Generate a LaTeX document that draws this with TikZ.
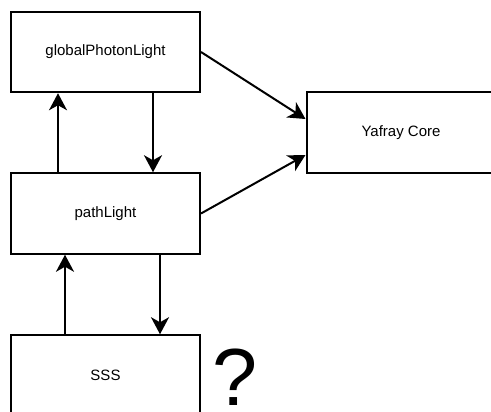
\documentclass[tikz,border=0pt]{standalone}
\usepackage{fontspec}
\setmainfont{Liberation Sans}
\usetikzlibrary{arrows.meta,calc}
\begin{document}
\begin{tikzpicture}[x=1pt,y=1pt,
  box/.style={draw=black,line width=2pt,fill=white,minimum width=189pt,minimum height=80.5pt,inner sep=0pt,font=\fontsize{15}{18}\selectfont},
  conn/.style={line width=2pt,-{Stealth[length=17pt,width=18pt,inset=5pt]}}]
\useasboundingbox (0,0) rectangle (491,-412);
\node[box] (gpl) at (105.5,-52) {globalPhotonLight};
\node[box] (pl) at (105.5,-213.5) {pathLight};
\node[box] (sss) at (105.5,-375.5) {SSS};
\node[box] (yc) at (401,-132.75) {Yafray Core};
\node[inner sep=0pt,font=\fontsize{81}{90}\selectfont] (q) at (235.5,-377.5) {?};
\draw[conn] ($(gpl.south)+(47.5,0)$) -- ($(pl.north)+(47.5,0)$);
\draw[conn] ($(pl.north)+(-47.5,0)$) -- ($(gpl.south)+(-47.5,0)$);
\draw[conn] ($(pl.south)+(54.5,0)$) -- ($(sss.north)+(54.5,0)$);
\draw[conn] ($(sss.north)+(-40.5,0)$) -- ($(pl.south)+(-40.5,0)$);
\draw[conn] (gpl.east) -- ($(yc.west)+(0,13.75)$);
\draw[conn] (pl.east) -- ($(yc.west)+(0,-22.25)$);
\end{tikzpicture}
\end{document}
